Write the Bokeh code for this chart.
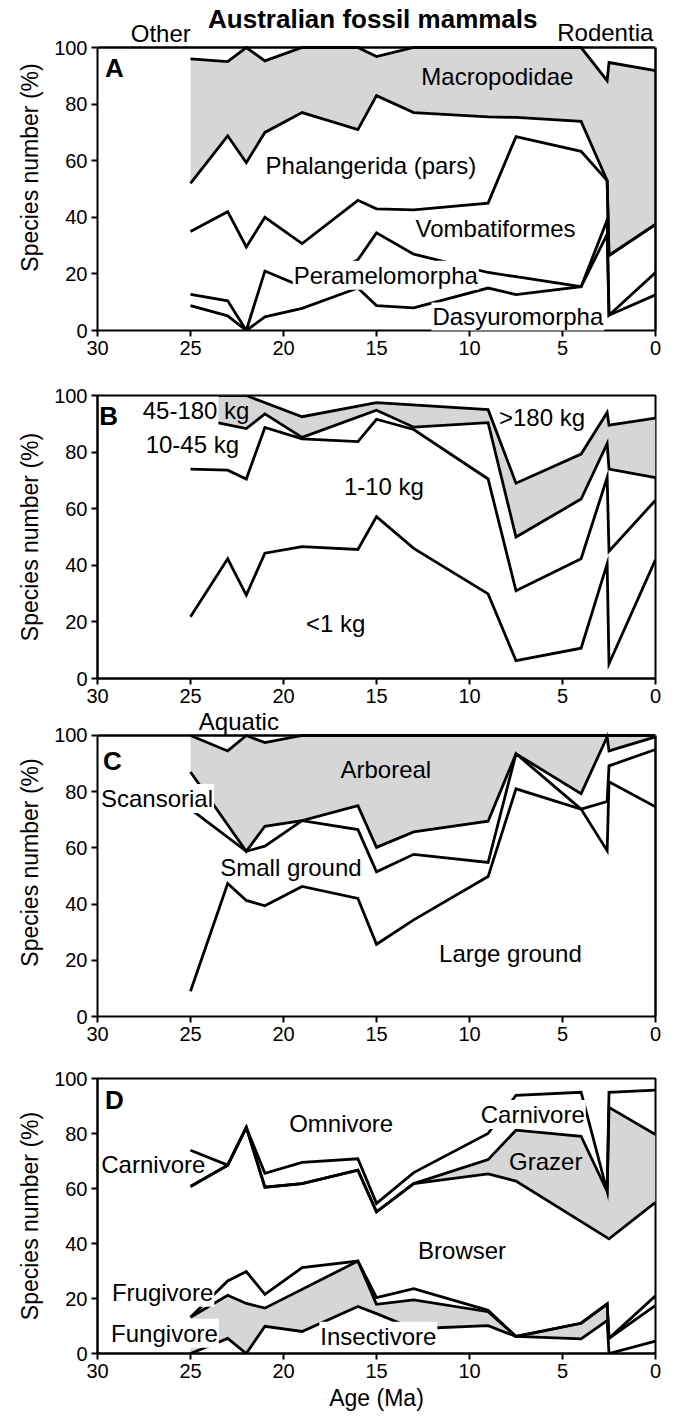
from bokeh.plotting import figure
from bokeh.layouts import column
from bokeh.models import Range1d, FixedTicker, Label, Span, LinearAxis
from bokeh.embed import file_html
from bokeh.resources import INLINE

FONT = "Liberation Sans"
GREY = "#d6d6d6"
LBL = "24px"

# ---------------- data (cumulative boundaries, %) ----------------
ages = [25, 23, 22, 21, 19, 16, 15, 13, 9, 7.5, 4, 2.6, 2.5, 0]
ages_b = [25, 23.5, 23, 22, 21, 19, 16, 15, 13, 9, 7.5, 4, 2.6, 2.5, 0]

# Panel A: taxonomy
a_dasyuromorpha = [8.8, 5.2, 0, 4.8, 7.8, 15, 8.8, 8, 15, 12.7, 15.5, 34, 5.4, 12.6]
a_peramelomorpha = [12.8, 10.5, 0, 21, 15.5, 25, 34.5, 27, 20.5, 19, 15.5, 39, 5.4, 20.5]
a_vombatiformes = [35, 42, 29.5, 40, 30.7, 46, 43, 42.6, 45, 68.5, 63.3, 53, 26.5, 37.5]
a_phalangerida = [52, 68.8, 59.3, 70, 77, 71, 83, 77, 75.5, 75.3, 73.9, 53, 26.5, 37.5]
a_macropodidae = [96, 95, 100, 95.3, 100, 100, 96.8, 100, 100, 100, 100, 88.3, 94.7, 91.8]

# Panel B: body mass
b_lt1 = [21.8, None, 42.3, 29.5, 44.3, 46.6, 45.6, 57.2, 46, 29.9, 6.3, 10.7, 40.5, 5.2, 42]
b_1_10 = [74, None, 73.6, 70.5, 88.7, 84.7, 83.7, 91.6, 88, 70.5, 31, 42.3, 71, 45, 63]
b_10_45 = [None, 90.3, None, 88.3, 93.5, 85.2, None, 94.8, 88.8, 90.4, 50, 63.4, 83, 74, 71]
b_45_180 = [None, 100, None, 100, None, 92.5, None, 97.5, None, 95, 69, 79.3, 94, 89.5, 92]

# Panel C: locomotion
c_large_ground = [9, 47.3, 41.3, 39.4, 46.3, 42, 25.7, 34.4, 49.8, 81, 73.8, 59, 83.5, 74.6]
c_small_ground = [73.8, None, 58.8, 60.6, 69.7, 66.5, 51.5, 57.7, 54.8, 93.5, 73.8, 76.5, 89.2, 95]
c_scansorial = [87, None, 58.8, 67.7, 69.7, 75, 60.2, 65.7, 69.5, 93.5, 79.3, 99.5, 94.5, 99.5]
c_arboreal = [100, 94.5, 100, 97.5, 100, 100, 100, 100, 100, 100, 100, 100, 100, 100]

# Panel D: diet
d_fungivore = [0, 5.5, 0, 9.9, 8, 17.1, 14.5, 9, 10.1, 6.2, 5.3, 12, 0, 4.5]
d_insectivore = [13.2, 21.2, 18.2, 16.5, None, 33.6, 17.9, 19.5, 15.2, 6.2, 11, 18, 5.5, 17.5]
d_frugivore = [13.2, 26.4, 29.8, 21.5, 31.2, 33.6, 20.3, 23.6, 15.7, 6.2, 11, 18, 5.5, 21]
d_browser = [60.7, 68.5, 82.2, 60.5, 61.8, 66.7, 51.5, 61.8, 65.3, 62.7, None, None, 41.7, 55]
d_grazer = [60.7, 68.5, 82.2, 60.5, 61.8, 66.7, 51.5, 61.8, 70.5, 81.2, 79, 59, 89.5, 79.6]
d_carnivore = [73.9, 68.5, 82.2, 65.5, 69.5, 70.8, 54.6, 65.8, 80, 93.9, 95, 59, 95, 95.8]

x_ticks = [0, 5, 10, 15, 20, 25, 30]
y_ticks = [0, 20, 40, 60, 80, 100]


def pts(xs, ys, lo=-1e9, hi=1e9):
    return [(x, y) for x, y in zip(xs, ys) if y is not None and lo <= x <= hi]


def make_fig(height, top, bottom, ymax=100, xlabel=None):
    p = figure(width=671, height=height, x_range=Range1d(30, 0), y_range=Range1d(0, ymax),
               output_backend="svg", toolbar_location=None, title_location=None,
               min_border_left=97, min_border_right=16,
               min_border_top=top, min_border_bottom=bottom)
    p.xgrid.visible = False
    p.ygrid.visible = False
    p.background_fill_color = "white"
    p.border_fill_color = "white"
    if ymax > 100:
        p.outline_line_color = None
        p.add_layout(Span(location=100, dimension="width", line_color="black",
                          line_width=2.5, line_alpha=1))
        p.add_layout(LinearAxis(bounds=(0, 100), ticker=FixedTicker(ticks=[], minor_ticks=[]),
                                axis_line_width=2.5, axis_line_color="black",
                                major_tick_line_color=None, minor_tick_line_color=None,
                                major_label_standoff=0),
                     "right")
    else:
        p.outline_line_color = "black"
        p.outline_line_width = 2
        p.outline_line_alpha = 1
    for ax in (p.xaxis[0], p.yaxis[0]):
        ax.axis_line_width = 2
        ax.axis_line_color = "black"
        ax.major_tick_line_width = 2
        ax.major_tick_line_color = "black"
        ax.major_tick_out = 6
        ax.major_tick_in = 0
        ax.minor_tick_line_color = None
        ax.major_label_text_font = FONT
        ax.major_label_text_font_size = "20px"
        ax.major_label_text_color = "black"
        ax.major_label_standoff = 4
        ax.axis_label_text_font = FONT
        ax.axis_label_text_font_size = "23px"
        ax.axis_label_text_font_style = "normal"
        ax.axis_label_text_color = "black"
    p.xaxis.ticker = FixedTicker(ticks=x_ticks)
    p.yaxis[0].ticker = FixedTicker(ticks=y_ticks)
    p.yaxis[0].bounds = (0, 100)
    p.yaxis[0].axis_label = "Species number (%)"
    p.yaxis[0].axis_label_standoff = 8
    if xlabel:
        p.xaxis.axis_label = xlabel
        p.xaxis.axis_label_standoff = 4
    return p


def band(p, xs, lower, upper, lo=-1e9, hi=1e9):
    a = pts(xs, lower, lo, hi)
    b = pts(xs, upper, lo, hi)
    poly = a + b[::-1]
    p.patch([q[0] for q in poly], [q[1] for q in poly], fill_color=GREY, line_color=None)


def boundary(p, xs, ys):
    q = pts(xs, ys)
    p.line([a for a, _ in q], [b for _, b in q], line_color="black", line_width=2.8,
           line_join="miter")


def lab(p, x, y, text, size=LBL, bold=False, bg=False, align="center"):
    kw = dict(x=x, y=y, text=text, text_font=FONT, text_font_size=size,
              text_align=align, text_baseline="middle", text_color="black",
              text_font_style="bold" if bold else "normal")
    if bg:
        kw.update(background_fill_color="white", padding=1)
    p.add_layout(Label(**kw))


# ---------------- Panel A ----------------
pa = make_fig(385, 4, 55, ymax=115.2)
band(pa, ages, a_phalangerida, a_macropodidae)
for s in (a_dasyuromorpha, a_peramelomorpha, a_vombatiformes, a_phalangerida, a_macropodidae):
    boundary(pa, ages, s)
lab(pa, 29.6, 92.7, "A", size="26px", bold=True, align="left")
lab(pa, 8.5, 89.7, "Macropodidae")
lab(pa, 15.3, 58.3, "Phalangerida (pars)")
lab(pa, 8.6, 36, "Vombatiformes")
lab(pa, 14.5, 19.5, "Peramelomorpha", bg=True)
lab(pa, 7.4, 4.8, "Dasyuromorpha", bg=True)
lab(pa, 26.6, 104.9, "Other")
lab(pa, 2.7, 105.3, "Rodentia")
lab(pa, 15.2, 110.2, "Australian fossil mammals", size="26px", bold=True)

# ---------------- Panel B ----------------
pb = make_fig(323, 10, 30)
band(pb, ages_b, b_10_45, b_45_180)
for s in (b_lt1, b_1_10, b_10_45, b_45_180):
    boundary(pb, ages_b, s)
lab(pb, 29.9, 92.8, "B", size="26px", bold=True, align="left")
lab(pb, 24.7, 94.6, "45-180 kg")
lab(pb, 24.9, 82.8, "10-45 kg")
lab(pb, 14.6, 67.8, "1-10 kg")
lab(pb, 6.1, 92.3, ">180 kg")
lab(pb, 17.2, 19.5, "<1 kg")

# ---------------- Panel C ----------------
pc = make_fig(360, 0, 52, ymax=109.6)
band(pc, ages, c_scansorial, c_arboreal)
for s in (c_large_ground, c_small_ground, c_scansorial, c_arboreal):
    boundary(pc, ages, s)
lab(pc, 29.7, 91, "C", size="26px", bold=True, align="left")
lab(pc, 22.4, 104.9, "Aquatic")
lab(pc, 14.5, 87.8, "Arboreal")
lab(pc, 26.8, 77.6, "Scansorial", bg=True)
lab(pc, 19.6, 53, "Small ground")
lab(pc, 7.8, 22.5, "Large ground")

# ---------------- Panel D ----------------
pd_ = make_fig(349, 10, 64, xlabel="Age (Ma)")
band(pd_, ages, d_fungivore, d_insectivore, lo=2.6)
band(pd_, ages, d_browser, d_grazer, hi=13)
for s in (d_fungivore, d_insectivore, d_frugivore, d_browser, d_grazer, d_carnivore):
    boundary(pd_, ages, s)
lab(pd_, 29.6, 92.2, "D", size="26px", bold=True, align="left")
lab(pd_, 16.9, 83.6, "Omnivore")
lab(pd_, 6.6, 86.9, "Carnivore", bg=True)
lab(pd_, 27, 68.7, "Carnivore")
lab(pd_, 5.9, 69.9, "Grazer")
lab(pd_, 10.4, 37.6, "Browser")
lab(pd_, 26.5, 22.3, "Frugivore", bg=True)
lab(pd_, 26.4, 7.4, "Fungivore", bg=True)
lab(pd_, 14.9, 6.3, "Insectivore", bg=True)

layout = column(pa, pb, pc, pd_, spacing=0)
open("out.html", "w").write(file_html(layout, INLINE))
